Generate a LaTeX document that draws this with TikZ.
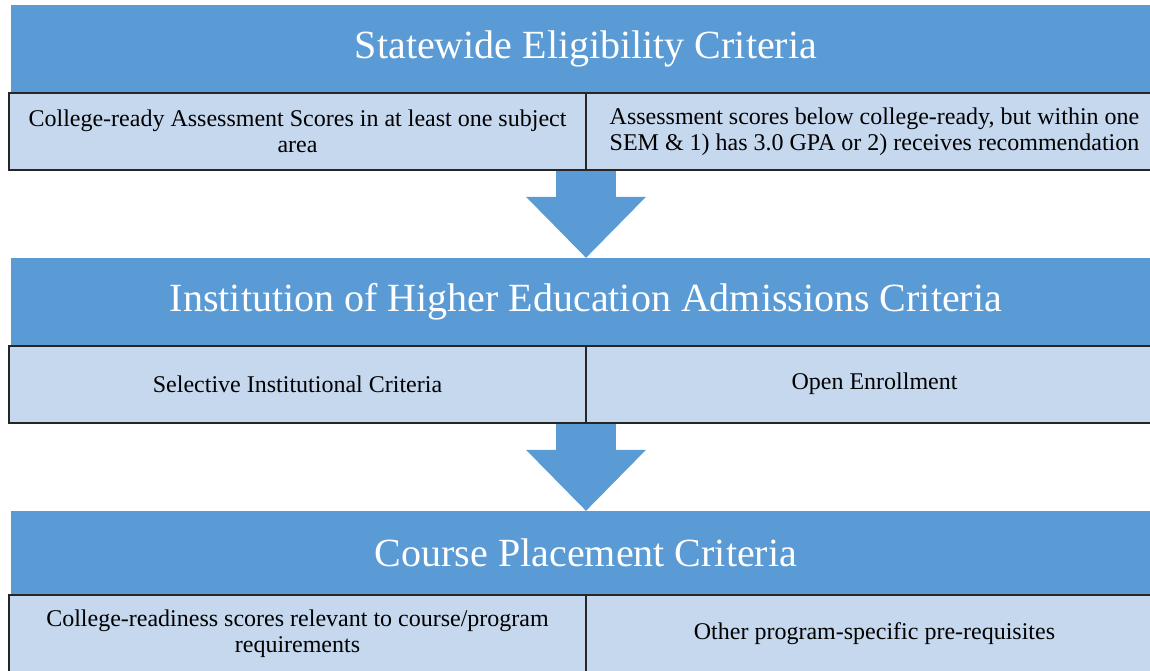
\documentclass[tikz,border=0pt]{standalone}
\usepackage{fontspec}
\setmainfont{Liberation Serif}
\usetikzlibrary{arrows.meta,positioning}
\definecolor{headblue}{RGB}{91,155,213}
\definecolor{cellblue}{RGB}{197,216,238}

\begin{document}
\begin{tikzpicture}[x=1pt,y=-1pt,
  header/.style={fill=headblue, text=white, minimum width=1150pt, minimum height=88pt, inner sep=0pt, font=\fontsize{40}{44}\selectfont},
  cell/.style={draw=black!85, line width=2pt, fill=cellblue, minimum width=577pt, minimum height=77pt, inner sep=0pt, align=center, font=\fontsize{24}{25.5}\selectfont},
  flow/.style={draw=headblue, line width=60pt, -{Triangle[width=120pt,length=61pt,line width=0pt]}}]
  \useasboundingbox (0,0) rectangle (1150,671);

  % Statewide level
  \node[header] (state) at (586,49) {Statewide Eligibility Criteria};
  \node[header] (inst) at (586,302) {Institution of Higher Education Admissions Criteria};
  \node[header, minimum height=84pt] (place) at (586,553) {Course Placement Criteria};

  % Arrows between levels
  \draw[flow] ([yshift=-1pt]586,170) coordinate (a1) -- (inst.north);
  \draw[flow] ([yshift=-1pt]586,423) coordinate (a2) -- (place.north);

  \node[cell] (ready) at (297.5,131.5) {College-ready Assessment Scores in at least one subject\\area};
  \node[cell] (below) at (874.5,131.5) {Assessment scores below college-ready, but within one\\SEM \& 1) has 3.0 GPA or 2) receives recommendation};

  % Institution level
  \node[cell] (select) at (297.5,384) {Selective Institutional Criteria};
  \node[cell] (open) at (874.5,384) {Open Enrollment};

  % Course level
  \node[cell] (relevant) at (297.5,633.5) {College-readiness scores relevant to course/program\\requirements};
  \node[cell] (prereq) at (874.5,633.5) {Other program-specific pre-requisites};
\end{tikzpicture}
\end{document}
